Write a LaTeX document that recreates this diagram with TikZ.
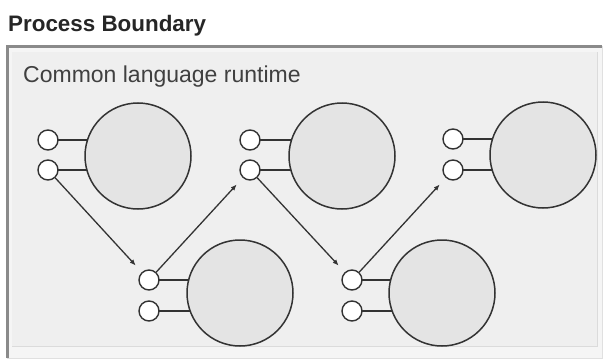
\documentclass[tikz,border=0pt]{standalone}
\usepackage{fontspec}
\setmainfont{Liberation Sans}
\usetikzlibrary{arrows.meta}
\pgfdeclarelayer{bg}
\pgfdeclarelayer{lines}
\pgfsetlayers{bg,lines,main}
\definecolor{edge}{HTML}{333333}
\definecolor{bigfill}{HTML}{E4E4E4}
\definecolor{boxfill}{HTML}{EFEFEF}
\definecolor{frame}{HTML}{8A8A8A}
\tikzset{
  big/.style={circle, draw=edge, line width=1.5pt, fill=bigfill, minimum size=106pt, inner sep=0pt},
  port/.style={circle, draw=edge, line width=1.4pt, fill=white, minimum size=20pt, inner sep=0pt},
  wire/.style={draw=edge, line width=1.5pt},
  flow/.style={draw=edge, line width=1.3pt, shorten >=9pt, -{Latex[length=6pt,width=5pt]}},
  title/.style={font=\bfseries\fontsize{22.4}{26}\selectfont, text=black!85, anchor=base west, inner sep=0pt},
  label/.style={font=\fontsize{23}{27}\selectfont, text=black!75, anchor=base west, inner sep=0pt}
}
\begin{document}
\begin{tikzpicture}[x=1pt,y=-1pt]
\useasboundingbox (0,0) rectangle (607,361);
\begin{pgfonlayer}{bg}
  \fill[white] (0,0) rectangle (607,361);
  \fill[black!4] (7,46) rectangle (602,358);
  \draw[black!12, line width=1pt] (602,46) -- (602,358) -- (7,358);
  \fill[boxfill] (12,52) rectangle (597,346);
  \draw[black!14, line width=1pt] (12,346) -- (597,346) -- (597,52);
  \draw[frame, line width=3pt] (7.5,358) -- (7.5,46.5) -- (602,46.5);
\end{pgfonlayer}
\node[title] (pb) at (8,32) {Process Boundary};
\node[label] (clr) at (23,82) {Common language runtime};

\node[big] (b1) at (138,156) {};
\node[big] (b2) at (342,156) {};
\node[big] (b3) at (543,155) {};
\node[big] (b4) at (240,293) {};
\node[big] (b5) at (442,293) {};

\node[port] (p1a) at (48,140) {};
\node[port] (p1b) at (48,170) {};
\node[port] (p2a) at (250,140) {};
\node[port] (p2b) at (250,170) {};
\node[port] (p3a) at (453,139) {};
\node[port] (p3b) at (453,170) {};
\node[port] (p4a) at (149,280) {};
\node[port] (p4b) at (149,311) {};
\node[port] (p5a) at (352,280) {};
\node[port] (p5b) at (352,311) {};

\begin{pgfonlayer}{lines}
  \foreach \p/\b in {p1a/b1,p1b/b1,p2a/b2,p2b/b2,p3a/b3,p3b/b3,p4a/b4,p4b/b4,p5a/b5,p5b/b5}
    \draw[wire] (\p.center) -- (\p.center -| \b.center);
\end{pgfonlayer}

\draw[flow] (p1b) -- (p4a);
\draw[flow] (p4a) -- (p2b);
\draw[flow] (p2b) -- (p5a);
\draw[flow] (p5a) -- (p3b);
\end{tikzpicture}
\end{document}
